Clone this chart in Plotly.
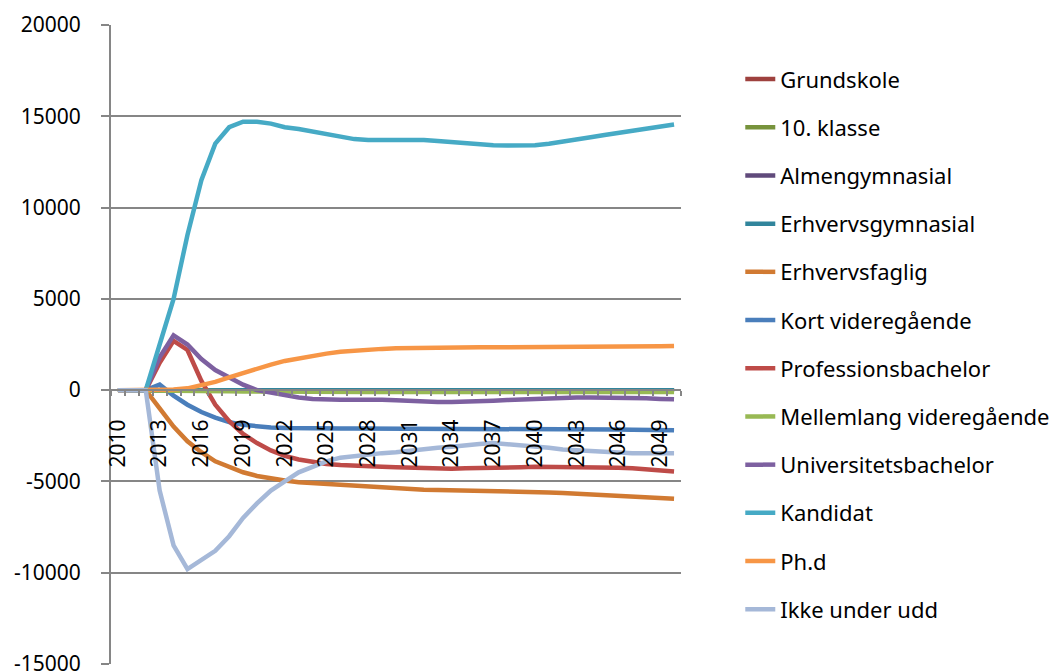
import plotly.graph_objects as go

years = list(range(2010, 2051))

series_names = ["Grundskole", "10. klasse", "Almengymnasial", "Erhvervsgymnasial",
                "Erhvervsfaglig", "Kort videregående", "Professionsbachelor",
                "Mellemlang videregående", "Universitetsbachelor", "Kandidat",
                "Ph.d", "Ikke under udd"]

colors = ["#9E413E", "#77933C", "#604A7B", "#31859C", "#D17A32", "#4A7EBB",
          "#BE4B48", "#98B954", "#7D60A0", "#46AAC5", "#F79646", "#A5B8D8"]

grundskole = [0] * 41
klasse10 = [0] * 41
almengymnasial = [0] * 41
erhvervsgymnasial = [0] * 41

erhvervsfaglig = [0, 0, 0, -1000, -2000, -2800, -3400, -3900, -4200, -4500,
                  -4700, -4850, -4950, -5050, -5100, -5150, -5200, -5250, -5300, -5350,
                  -5400, -5420, -5450, -5470, -5480, -5490, -5500, -5510, -5520, -5540,
                  -5560, -5600, -5640, -5680, -5720, -5760, -5800, -5850, -5880, -5920, -5950]

kort_videregaaende = [0, 0, 0, 300, -300, -800, -1200, -1500, -1750, -1900,
                      -2000, -2050, -2080, -2100, -2100, -2100, -2100, -2100, -2100, -2100,
                      -2100, -2100, -2100, -2100, -2100, -2100, -2100, -2100, -2100, -2100,
                      -2100, -2110, -2120, -2130, -2140, -2150, -2160, -2170, -2180, -2190, -2200]

professionsbachelor = [0, 0, 0, 1500, 2700, 2200, 500, -800, -1700, -2400,
                       -2900, -3300, -3600, -3800, -3950, -4050, -4100, -4150, -4180, -4200,
                       -4220, -4250, -4280, -4300, -4300, -4280, -4250, -4230, -4220, -4220,
                       -4200, -4200, -4200, -4200, -4220, -4230, -4250, -4280, -4330, -4400, -4450]

mellemlang = [0, 0, 0, 0, -10, -20, -30, -45, -60, -70,
              -80, -85, -90, -95, -100, -100, -100, -100, -100, -100,
              -100, -100, -100, -100, -100, -100, -100, -100, -100, -100,
              -100, -100, -100, -100, -100, -100, -100, -100, -100, -100, -100]

universitetsbachelor = [0, 0, 0, 1800, 3000, 2500, 1700, 1100, 700, 300,
                        0, -150, -300, -400, -480, -520, -530, -520, -500, -520,
                        -560, -600, -630, -650, -650, -640, -620, -580, -540, -500,
                        -470, -440, -420, -400, -400, -400, -400, -420, -450, -480, -500]

kandidat = [0, 0, 0, 2500, 5000, 8500, 11500, 13500, 14400, 14700,
            14700, 14600, 14400, 14300, 14150, 14000, 13850, 13750, 13700, 13700,
            13720, 13720, 13700, 13650, 13580, 13500, 13450, 13420, 13400, 13400,
            13420, 13500, 13600, 13700, 13850, 13980, 14100, 14250, 14350, 14450, 14550]

phd = [0, 0, 0, 0, 30, 100, 250, 450, 700, 950,
       1200, 1400, 1600, 1750, 1900, 2000, 2100, 2170, 2220, 2260,
       2290, 2310, 2330, 2340, 2350, 2350, 2350, 2350, 2350, 2350,
       2350, 2350, 2350, 2350, 2350, 2350, 2350, 2370, 2390, 2410, 2420]

ikke_under_udd = [0, 0, 0, -5500, -8500, -9800, -9300, -8800, -8000, -7000,
                  -6200, -5500, -5000, -4500, -4200, -3900, -3700, -3600, -3500, -3450,
                  -3400, -3300, -3200, -3150, -3100, -3000, -2950, -2900, -2950, -3000,
                  -3050, -3150, -3250, -3300, -3350, -3400, -3450, -3450, -3450, -3450, -3450]

series_values = [grundskole, klasse10, almengymnasial, erhvervsgymnasial, erhvervsfaglig,
                 kort_videregaaende, professionsbachelor, mellemlang, universitetsbachelor,
                 kandidat, phd, ikke_under_udd]

x_tick_years = years[::3]  # 2010 ... 2049
x_tick_text = [str(y) for y in x_tick_years]

y_tick_vals = [-15000, -10000, -5000, 0, 5000, 10000, 15000, 20000]
y_tick_text = ["-15000", "-10000", "-5000", "0", "5000", "10000", "15000", "20000"]

fig = go.Figure()
for i, (name, vals, col) in enumerate(zip(series_names, series_values, colors)):
    fig.add_trace(go.Scatter(
        x=years, y=vals, name=name, mode="lines",
        line=dict(color=col, width=4.5),
        legendgroup=f"g{i}",
    ))

y_min, y_max = -15000, 20000
fig.update_layout(
    width=1064, height=672,
    margin=dict(l=103, r=391, t=17, b=16),
    paper_bgcolor="white", plot_bgcolor="white",
    font=dict(family="Noto Sans", size=21, color="black"),
    showlegend=True,
    legend=dict(
        x=1.104, y=0.948, xanchor="left", yanchor="top",
        font=dict(family="Noto Sans", size=22, color="black"),
        tracegroupgap=16.6, itemwidth=30, bgcolor="rgba(0,0,0,0)",
    ),
    xaxis=dict(
        range=[2009.5, 2050.5], automargin=False,
        tickmode="array", tickvals=x_tick_years, ticktext=x_tick_text,
        tickangle=-90,
        ticks="outside", ticklen=5, tickcolor="rgba(0,0,0,0)",
        ticklabelstandoff=15,
        tickfont=dict(family="Noto Sans", size=21, color="black"),
        showgrid=False, zeroline=False,
        showline=True, linecolor="#868686", linewidth=2,
        anchor="free", position=(0 - y_min) / (y_max - y_min),
        minor=dict(ticks="outside", tick0=2009.5, dtick=1, ticklen=5,
                   tickcolor="#868686", tickwidth=1.5, showgrid=False),
    ),
    yaxis=dict(
        range=[y_min, y_max], automargin=False,
        tickmode="array", tickvals=y_tick_vals, ticktext=y_tick_text,
        showgrid=True, gridcolor="#868686", gridwidth=1.5,
        zeroline=False,
        showline=True, linecolor="#868686", linewidth=2,
        ticks="outside", ticklen=8, tickcolor="#868686", tickwidth=1.5,
        ticklabelstandoff=16,
        tickfont=dict(family="Noto Sans", size=21, color="black"),
    ),
)

fig.write_html("out.html")
